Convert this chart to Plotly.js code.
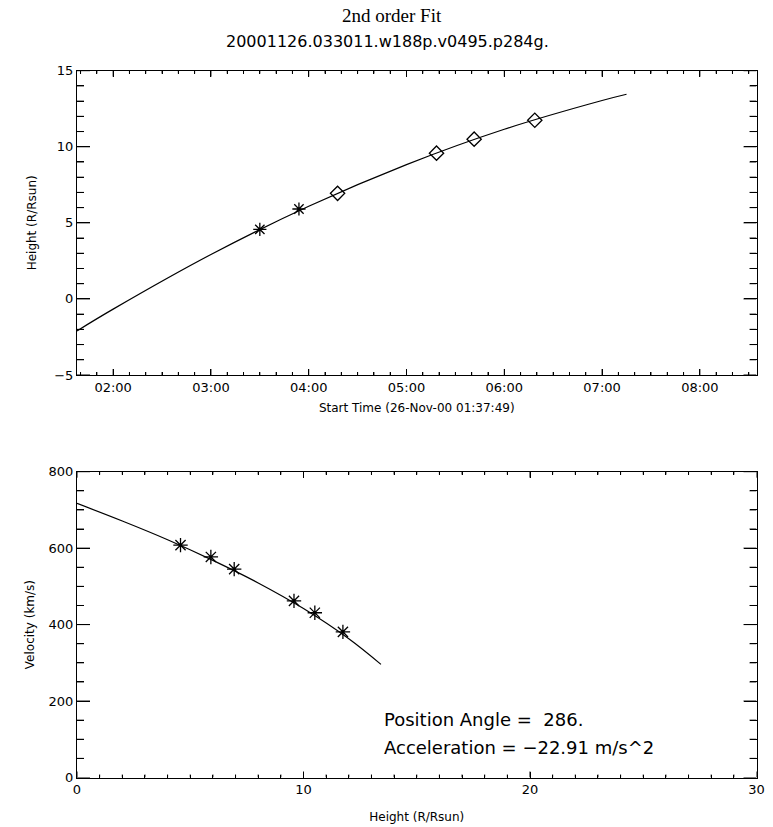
<!DOCTYPE html>
<html>
<head>
<meta charset="utf-8">
<script src="https://cdn.plot.ly/plotly-3.0.1.min.js"></script>
<style>html,body{margin:0;padding:0;background:#fff;}#chart{width:773px;height:827px;}</style>
</head>
<body>
<div id="chart"></div>
<script>
// ---- data ----
const startTime = '2000-11-26 01:37:49';
const endTime = '2000-11-26 08:34:45';
const obsTimes = ['2000-11-26 03:30:00','2000-11-26 03:54:00','2000-11-26 04:17:42','2000-11-26 05:18:24','2000-11-26 05:41:30','2000-11-26 06:18:42'];
const obsHeights = [4.57, 5.91, 6.94, 9.58, 10.50, 11.74];
const obsMarkers = ['asterisk-open','asterisk-open','diamond-open','diamond-open','diamond-open','diamond-open'];
const obsVelocity = [608, 577, 545, 462, 431, 381];
const fitTimes = ['2000-11-26 01:37:49','2000-11-26 02:00:00','2000-11-26 03:00:00','2000-11-26 04:00:00','2000-11-26 05:00:00','2000-11-26 06:00:00','2000-11-26 07:00:00','2000-11-26 07:15:00'];
const fitHeights = [-2.1, -0.67, 2.92, 6.09, 8.83, 11.15, 13.04, 13.45];
const fitVelHeights = [0, 2, 4, 6, 8, 10, 12, 13.42];
const fitVelocity = [717, 671, 622, 568, 509, 442, 363, 296];
const heightRange = [-5, 15];
const velHeightRange = [0, 30];
const velocityRange = [0, 800];
const titleText = '2nd order Fit';
const subtitleText = '20001126.033011.w188p.v0495.p284g.';
const positionAngleText = 'Position Angle =\u00a0\u00a0286.';
const accelerationText = 'Acceleration = \u221222.91 m/s^2';

const W = 773, H = 827;
const fx = p => p / W;
const fy = p => 1 - p / H;
const sans = 'DejaVu Sans, sans-serif';
function ax(extra){
  return Object.assign({showgrid:false, zeroline:false, showline:true, linecolor:'#000', linewidth:1, mirror:'allticks', ticks:'inside', tickcolor:'#000', tickwidth:1, automargin:false, tickfont:{family:sans, size:13, color:'#000'}}, extra);
}

// ---- tick marks on all four sides (IDL style), placed at axis tick values ----
const shapes = [];
function xTicks(xref, yref, yr, vals, majorTest, lenMajor, lenMinor){
  vals.forEach(function(v){
    const len = majorTest(v) ? lenMajor : lenMinor;
    shapes.push({type:'line', xref:xref, yref:yref, x0:v, x1:v, ysizemode:'pixel', yanchor:yr[0], y0:0, y1:len, line:{color:'#000', width:1}, layer:'above'});
    shapes.push({type:'line', xref:xref, yref:yref, x0:v, x1:v, ysizemode:'pixel', yanchor:yr[1], y0:0, y1:-len, line:{color:'#000', width:1}, layer:'above'});
  });
}
function yTicks(xref, yref, xr, vals, majorTest, lenMajor, lenMinor){
  vals.forEach(function(v){
    const len = majorTest(v) ? lenMajor : lenMinor;
    shapes.push({type:'line', xref:xref, yref:yref, y0:v, y1:v, xsizemode:'pixel', xanchor:xr[0], x0:0, x1:len, line:{color:'#000', width:1}, layer:'above'});
    shapes.push({type:'line', xref:xref, yref:yref, y0:v, y1:v, xsizemode:'pixel', xanchor:xr[1], x0:0, x1:-len, line:{color:'#000', width:1}, layer:'above'});
  });
}
const timeTickVals = [];
for (let m = 100; m <= 510; m += 10) {
  const hh = Math.floor(m / 60), mm = m % 60;
  timeTickVals.push('2000-11-26 ' + String(hh).padStart(2,'0') + ':' + String(mm).padStart(2,'0') + ':00');
}
const range = (a, b, s) => { const r = []; for (let v = a; v <= b + 1e-9; v += s) r.push(v); return r; };
xTicks('x', 'y', heightRange, timeTickVals, v => v.slice(14,16) === '00', 6, 3);
yTicks('x', 'y', [startTime, endTime], range(-5, 15, 1), v => v % 5 === 0, 13, 7);
xTicks('x2', 'y2', velocityRange, range(0, 30, 1), v => v % 10 === 0, 6, 3);
yTicks('x2', 'y2', velHeightRange, range(0, 800, 50), v => v % 200 === 0, 13, 7);

const traces = [
  {x: fitTimes, y: fitHeights, mode: 'lines', line: {color: '#000', width: 1.2, shape: 'spline'}, xaxis: 'x', yaxis: 'y'},
  {x: obsTimes, y: obsHeights, mode: 'markers', marker: {symbol: obsMarkers, size: 11, color: '#000', line: {color: '#000', width: 1.3}}, xaxis: 'x', yaxis: 'y'},
  {x: fitVelHeights, y: fitVelocity, mode: 'lines', line: {color: '#000', width: 1.2, shape: 'spline'}, xaxis: 'x2', yaxis: 'y2'},
  {x: obsHeights, y: obsVelocity, mode: 'markers', marker: {symbol: 'asterisk-open', size: 12, color: '#000', line: {color: '#000', width: 1.3}}, xaxis: 'x2', yaxis: 'y2'}
];
const layout = {
  width: W, height: H, showlegend: false, margin: {l:0,r:0,t:0,b:0},
  font: {family: sans, color: '#000'},
  xaxis: ax({type:'date', domain:[fx(77),fx(756.5)], anchor:'y', range:[startTime,endTime], tick0:'2000-11-26 00:00:00', dtick:3600000, tickformat:'%H:%M', ticklen:6, minor:{dtick:600000,ticks:'inside',ticklen:3},
     title:{text:'Start Time (26-Nov-00 01:37:49)', font:{family:sans,size:12,color:'#000'}, standoff:10}}),
  yaxis: ax({domain:[fy(375),fy(70.7)], anchor:'x', range:heightRange, dtick:5, ticklen:13, minor:{dtick:1,ticks:'inside',ticklen:7},
     title:{text:'Height (R/Rsun)', font:{family:sans,size:12,color:'#000'}, standoff:15}}),
  xaxis2: ax({domain:[fx(77),fx(756.5)], anchor:'y2', range:velHeightRange, dtick:10, ticklen:6, minor:{dtick:1,ticks:'inside',ticklen:3},
     title:{text:'Height (R/Rsun)', font:{family:sans,size:12,color:'#000'}, standoff:16}}),
  yaxis2: ax({domain:[fy(777.5),fy(471.7)], anchor:'x2', range:velocityRange, dtick:200, ticklen:13, minor:{dtick:50,ticks:'inside',ticklen:7},
     title:{text:'Velocity (km/s)', font:{family:sans,size:12,color:'#000'}, standoff:11}}),
  shapes: shapes,
  annotations: [
    {text: titleText, xref:'paper', yref:'paper', x:fx(392), y:fy(16), xanchor:'center', yanchor:'middle', showarrow:false, font:{family:'Liberation Serif, Times New Roman, serif', size:19, color:'#000'}},
    {text: subtitleText, xref:'paper', yref:'paper', x:fx(387), y:fy(41), xanchor:'center', yanchor:'middle', showarrow:false, font:{family:sans, size:16, color:'#000'}},
    {text: positionAngleText, xref:'paper', yref:'paper', x:fx(382), y:fy(719), xanchor:'left', yanchor:'middle', showarrow:false, font:{family:sans, size:18, color:'#000'}},
    {text: accelerationText, xref:'paper', yref:'paper', x:fx(382), y:fy(747), xanchor:'left', yanchor:'middle', showarrow:false, font:{family:sans, size:18, color:'#000'}}
  ]
};
Plotly.newPlot('chart', traces, layout, {staticPlot:true, displayModeBar:false});
</script>
</body>
</html>
